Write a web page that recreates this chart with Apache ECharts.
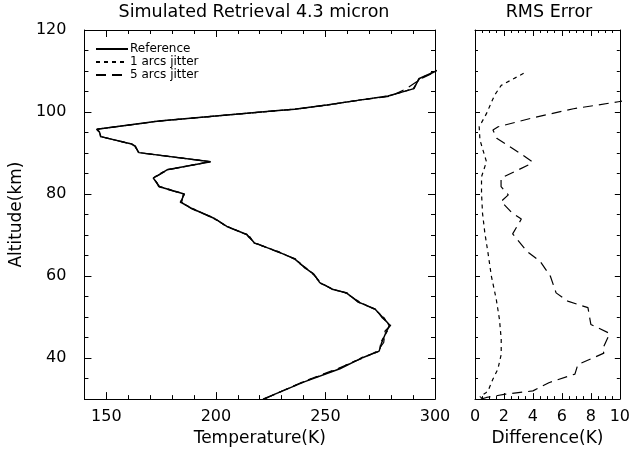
<!DOCTYPE html>
<html>
<head>
<meta charset="utf-8">
<script src="https://cdn.jsdelivr.net/npm/echarts@6/dist/echarts.min.js"></script>
<style>
  html, body { margin: 0; padding: 0; background: #fff; }
  #chart { width: 633px; height: 452px; }
</style>
</head>
<body>
<div id="chart"></div>
<script>
// Temperature profile retrieval (km, K)
const profileAlt = [30.0, 34.2, 37.4, 40.1, 41.7, 43.8, 46.6, 48.0, 49.8, 51.9, 53.6, 55.9, 56.7, 58.4, 60.4, 62.0, 63.2, 64.2, 65.9, 68.1, 69.5, 70.2, 72.1, 74.1, 76.4, 78.0, 80.0, 81.8, 83.9, 85.9, 87.9, 90.1, 91.7, 92.2, 94.0, 95.2, 95.8, 97.8, 100.3, 100.7, 101.7, 102.9, 103.9, 105.7, 108.1, 109.7, 110.4];
const refTemp = [221.5, 240.3, 256.6, 266.9, 274.5, 275.7, 277.9, 279.4, 276.4, 272.7, 265.4, 259.5, 253.6, 247.4, 244.8, 240.7, 238.1, 235.9, 228.5, 217.5, 215.3, 213.8, 205.0, 199.1, 189.3, 184.0, 185.5, 174.3, 171.4, 177.7, 197.6, 164.9, 163.0, 161.5, 147.5, 146.8, 145.7, 174.0, 227.1, 235.9, 250.6, 265.4, 278.6, 290.4, 292.6, 299.3, 302.0];
const jitter1Temp = [221.8, 240.0, 256.0, 266.5, 274.8, 275.2, 278.3, 279.0, 276.8, 272.4, 265.8, 259.1, 253.9, 247.0, 245.1, 240.5, 238.4, 235.6, 228.8, 217.2, 215.6, 213.5, 205.3, 198.8, 189.6, 183.7, 185.7, 174.6, 171.2, 177.4, 197.9, 165.1, 162.8, 161.7, 147.3, 147.0, 145.9, 173.7, 227.4, 235.6, 250.9, 265.1, 278.9, 290.1, 292.9, 299.0, 302.3];
const jitter5Temp = [222.0, 239.6, 255.4, 267.5, 273.8, 276.6, 277.2, 279.8, 275.9, 273.1, 264.9, 259.9, 253.2, 247.9, 244.4, 241.1, 237.7, 236.3, 228.1, 217.9, 214.9, 214.2, 204.6, 199.5, 188.9, 184.4, 185.1, 173.9, 171.7, 178.0, 197.2, 164.6, 163.3, 161.2, 147.7, 146.5, 145.5, 174.4, 226.7, 236.3, 250.2, 266.0, 280.0, 287.0, 293.5, 299.8, 302.0];

// RMS difference profiles (km, K)
const rms1Alt = [30.0, 30.6, 31.4, 32.0, 34.9, 37.3, 40.9, 44.6, 49.4, 54.3, 60.0, 65.6, 70.5, 75.3, 80.2, 84.2, 87.9, 93.2, 96.4, 99.6, 104.1, 106.5, 109.7];
const rms1 = [0.55, 0.35, 0.7, 0.9, 1.24, 1.58, 1.81, 1.81, 1.69, 1.47, 1.13, 0.9, 0.68, 0.52, 0.45, 0.45, 0.79, 0.34, 0.29, 0.79, 1.35, 1.81, 3.5];
const rms5Alt = [30.0, 30.4, 31.2, 32.0, 34.0, 36.1, 38.4, 41.2, 42.1, 46.0, 48.2, 52.3, 53.9, 55.9, 60.0, 63.6, 66.0, 70.3, 73.9, 75.6, 78.2, 79.8, 81.8, 83.9, 87.1, 87.9, 89.5, 91.1, 93.6, 95.6, 96.4, 98.6, 100.8, 102.5, 103.4];
const rms5 = [0.4, 0.8, 2.1, 4.0, 5.1, 6.9, 7.1, 8.9, 8.8, 9.3, 8.0, 7.8, 6.4, 5.6, 5.2, 4.5, 3.6, 2.6, 3.2, 2.5, 1.8, 2.3, 1.8, 1.8, 3.7, 3.95, 3.3, 2.6, 1.5, 1.24, 1.6, 4.0, 6.8, 9.9, 11.5];

// Axis ticks
const tempTicks = [150, 200, 250, 300];
const diffTicks = [0, 2, 4, 6, 8, 10];
const altTicks = [40, 60, 80, 100, 120];

const FONT = 'DejaVu Sans';
const BLACK = '#000';
const pairs = (xs, ys) => xs.map((x, i) => [x, ys[i]]);

// One frame side = a "minor" axis (regular short ticks, draws the frame line)
// plus a "major" axis at the same place (longer ticks at custom values, optional labels).
function side(grid, position, min, max, step, majors, minorLen, majorLen, labelOpts, nameOpts) {
  const base = { type: 'value', gridIndex: grid, position, min, max, splitLine: { show: false } };
  const minor = Object.assign({}, base, {
    interval: step,
    axisLine: { show: true, onZero: false, lineStyle: { color: BLACK, width: 1 } },
    axisTick: { show: true, inside: true, length: minorLen, lineStyle: { color: BLACK, width: 1 } },
    axisLabel: { show: false }
  });
  const major = Object.assign({}, base, {
    interval: step,
    axisLine: { show: false, onZero: false },
    axisTick: { show: true, inside: true, length: majorLen, customValues: majors, lineStyle: { color: BLACK, width: 1 } },
    axisLabel: labelOpts ? Object.assign({ show: true, customValues: majors, color: BLACK, fontFamily: FONT, fontSize: 16 }, labelOpts) : { show: false }
  }, nameOpts || {});
  return [minor, major];
}

const nameStyle = { color: BLACK, fontFamily: FONT, fontSize: 17 };

const xAxes = [
  // left panel: temperature (indices 0-3)
  ...side(0, 'bottom', 140, 300, 10, tempTicks, 4, 7, { margin: 10 },
    { name: 'Temperature(K)', nameLocation: 'middle', nameGap: 29, nameTextStyle: nameStyle }),
  ...side(0, 'top', 140, 300, 10, tempTicks, 4, 7, null),
  // right panel: difference (indices 4-7)
  ...side(1, 'bottom', 0, 10, 0.5, diffTicks, 3, 6, { margin: 10 },
    { name: 'Difference(K)', nameLocation: 'middle', nameGap: 29, nameTextStyle: nameStyle }),
  ...side(1, 'top', 0, 10, 0.5, diffTicks, 3, 6, null)
];

const yAxes = [
  // left panel altitude (indices 0-3)
  ...side(0, 'left', 30, 120, 5, altTicks, 4, 7, { margin: 18 },
    { name: 'Altitude(km)', nameLocation: 'middle', nameGap: 52, nameTextStyle: nameStyle }),
  ...side(0, 'right', 30, 120, 5, altTicks, 4, 7, null),
  // right panel altitude (indices 4-7)
  ...side(1, 'left', 30, 120, 5, altTicks, 3, 5, null),
  ...side(1, 'right', 30, 120, 5, altTicks, 3, 5, null)
];

const solid = { color: BLACK, width: 1.5, type: 'solid' };
const shortDash = { color: BLACK, width: 1.2, type: [4, 4] };
const longDash = { color: BLACK, width: 1.2, type: [10, 6] };

function line(name, data, xi, yi, style) {
  return {
    name, type: 'line', data, xAxisIndex: xi, yAxisIndex: yi,
    symbol: 'none', clip: true, lineStyle: style, itemStyle: { color: BLACK },
    emphasis: { disabled: true }, z: 5
  };
}

const option = {
  animation: false,
  backgroundColor: '#fff',
  grid: [
    { left: 73, top: 30, width: 362, height: 370 },
    { left: 475, top: 30, width: 148, height: 370 }
  ],
  xAxis: xAxes,
  yAxis: yAxes,
  legend: {
    orient: 'vertical', left: 90, top: 38, itemWidth: 32, itemHeight: 10, itemGap: 1,
    selectedMode: false,
    data: ['Reference', '1 arcs jitter', '5 arcs jitter'],
    itemStyle: { color: 'rgba(0,0,0,0)', borderColor: 'rgba(0,0,0,0)', borderWidth: 0 },
    textStyle: { color: BLACK, fontFamily: FONT, fontSize: 12, padding: [0, 0, 0, -3] }
  },
  graphic: [
    { type: 'text', x: 254, y: 12, style: { text: 'Simulated Retrieval 4.3 micron', fill: BLACK, font: '17.5px "DejaVu Sans"', textAlign: 'center', textVerticalAlign: 'middle' } },
    { type: 'text', x: 549, y: 12, style: { text: 'RMS Error', fill: BLACK, font: '17.5px "DejaVu Sans"', textAlign: 'center', textVerticalAlign: 'middle' } }
  ],
  series: [
    line('Reference', pairs(refTemp, profileAlt), 0, 0, solid),
    line('1 arcs jitter', pairs(jitter1Temp, profileAlt), 0, 0, shortDash),
    line('5 arcs jitter', pairs(jitter5Temp, profileAlt), 0, 0, longDash),
    line('1 arcs jitter', pairs(rms1, rms1Alt), 4, 4, shortDash),
    line('5 arcs jitter', pairs(rms5, rms5Alt), 4, 4, longDash)
  ]
};

const chart = echarts.init(document.getElementById('chart'), null, { renderer: 'canvas' });
chart.setOption(option);
</script>
</body>
</html>
